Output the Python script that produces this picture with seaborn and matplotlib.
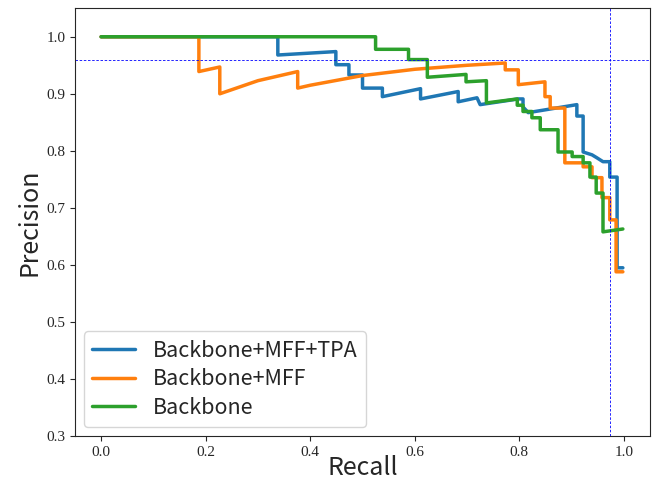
import matplotlib
matplotlib.use("Agg")
import matplotlib.pyplot as plt
import seaborn as sns
import pandas as pd

# PR curves (recall, precision vertices)
tpa_recall = [0.0, 0.338, 0.338, 0.449, 0.449, 0.474, 0.474, 0.50, 0.50, 0.538, 0.538,
              0.611, 0.611, 0.683, 0.683, 0.719, 0.725, 0.798, 0.807, 0.807, 0.817,
              0.910, 0.910, 0.922, 0.922, 0.939, 0.948, 0.960, 0.973, 0.973, 0.987,
              0.987, 0.998]
tpa_precision = [1.0, 1.0, 0.968, 0.974, 0.951, 0.951, 0.933, 0.933, 0.910, 0.910, 0.895,
                 0.909, 0.891, 0.904, 0.886, 0.893, 0.881, 0.891, 0.891, 0.877, 0.867,
                 0.881, 0.861, 0.861, 0.798, 0.793, 0.788, 0.781, 0.781, 0.754, 0.754,
                 0.595, 0.595]

mff_recall = [0.0, 0.187, 0.187, 0.227, 0.227, 0.30, 0.376, 0.376, 0.40, 0.50, 0.60,
              0.70, 0.773, 0.773, 0.798, 0.798, 0.849, 0.849, 0.859, 0.859, 0.887,
              0.887, 0.922, 0.922, 0.939, 0.939, 0.958, 0.958, 0.973, 0.973, 0.985,
              0.985, 0.998]
mff_precision = [1.0, 1.0, 0.939, 0.947, 0.900, 0.923, 0.939, 0.910, 0.915, 0.932, 0.943,
                 0.950, 0.954, 0.942, 0.942, 0.916, 0.921, 0.895, 0.895, 0.875, 0.875,
                 0.779, 0.779, 0.772, 0.772, 0.753, 0.753, 0.718, 0.718, 0.679, 0.679,
                 0.588, 0.588]

bb_recall = [0.0, 0.525, 0.525, 0.588, 0.588, 0.624, 0.624, 0.698, 0.698, 0.737, 0.737,
             0.796, 0.796, 0.807, 0.807, 0.824, 0.824, 0.840, 0.840, 0.874, 0.874,
             0.901, 0.901, 0.922, 0.922, 0.935, 0.935, 0.947, 0.947, 0.960, 0.960,
             0.998]
bb_precision = [1.0, 1.0, 0.978, 0.978, 0.960, 0.960, 0.929, 0.934, 0.921, 0.923, 0.884,
                0.891, 0.880, 0.880, 0.869, 0.869, 0.858, 0.858, 0.837, 0.837, 0.798,
                0.798, 0.790, 0.790, 0.779, 0.779, 0.754, 0.754, 0.726, 0.726, 0.658,
                0.663]

labels = ["Backbone+MFF+TPA", "Backbone+MFF", "Backbone"]
colors = ["#1f77b4", "#ff7f0e", "#2ca02c"]
best_precision = 0.96
best_recall = 0.973

df = pd.concat([
    pd.DataFrame({"recall": tpa_recall, "precision": tpa_precision, "model": labels[0]}),
    pd.DataFrame({"recall": mff_recall, "precision": mff_precision, "model": labels[1]}),
    pd.DataFrame({"recall": bb_recall, "precision": bb_precision, "model": labels[2]}),
], ignore_index=True)

sns.set_style("ticks")
plt.rcParams["font.family"] = ["Noto Sans CJK SC", "DejaVu Sans"]

fig, ax = plt.subplots(figsize=(6.52, 4.84), dpi=100)
fig.subplots_adjust(left=0.115, right=0.997, bottom=0.099, top=0.983)

sns.lineplot(data=df, x="recall", y="precision", hue="model", hue_order=labels,
             palette=colors, sort=False, estimator=None, linewidth=2.5, ax=ax)

ax.axhline(best_precision, color="blue", linestyle="--", linewidth=0.6, dashes=(3, 2))
ax.axvline(best_recall, color="blue", linestyle="--", linewidth=0.6, dashes=(3, 2))

ax.set_xlim(-0.05, 1.05)
ax.set_ylim(0.3, 1.05)
ax.set_xticks([0.0, 0.2, 0.4, 0.6, 0.8, 1.0])
ax.set_yticks([0.3, 0.4, 0.5, 0.6, 0.7, 0.8, 0.9, 1.0])
for t in ax.get_xticklabels() + ax.get_yticklabels():
    t.set_family(["Liberation Serif", "DejaVu Serif"])
    t.set_fontsize(11)

ax.set_xlabel("Recall", fontsize=18, labelpad=-3)
ax.set_ylabel("Precision", fontsize=18, labelpad=3)

ax.legend(loc="lower left", fontsize=15.5, handlelength=2.0, labelspacing=0.3,
          borderaxespad=0.4)

fig.savefig("out.png", dpi=100)
